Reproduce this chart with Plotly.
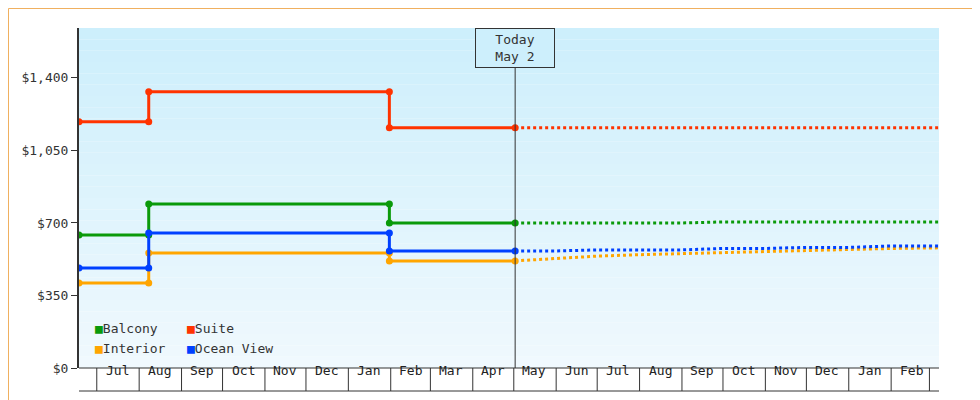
import plotly.graph_objects as go

# history (step changes)
hist_dates = ["2023-06-18", "2023-08-08", "2023-08-08", "2024-01-31", "2024-01-31", "2024-05-02"]
suite_hist = [1188, 1188, 1333, 1333, 1159, 1159]
balcony_hist = [642, 642, 792, 792, 700, 700]
ocean_hist = [483, 483, 652, 652, 565, 565]
interior_hist = [410, 410, 555, 555, 517, 517]

# forecast
fc_dates = ["2024-05-02", "2024-06-01", "2024-07-01", "2024-08-01", "2024-09-01", "2024-10-01",
            "2024-11-01", "2024-12-01", "2025-01-01", "2025-02-01", "2025-03-08"]
suite_fc = [1159] * 11
balcony_fc = [700, 700, 700, 700, 700, 705, 705, 705, 705, 705, 705]
ocean_fc = [565, 565, 570, 570, 570, 577, 577, 582, 582, 589, 589]
interior_fc = [517, 530, 540, 547, 552, 557, 563, 568, 573, 577, 580]

month_edges = ["2023-07-01", "2023-08-01", "2023-09-01", "2023-10-01", "2023-11-01", "2023-12-01",
               "2024-01-01", "2024-02-01", "2024-03-01", "2024-04-01", "2024-05-01", "2024-06-01",
               "2024-07-01", "2024-08-01", "2024-09-01", "2024-10-01", "2024-11-01", "2024-12-01",
               "2025-01-01", "2025-02-01", "2025-03-01"]
month_labels = ["Jul", "Aug", "Sep", "Oct", "Nov", "Dec", "Jan", "Feb", "Mar", "Apr", "May", "Jun",
                "Jul", "Aug", "Sep", "Oct", "Nov", "Dec", "Jan", "Feb"]

series = [
    ("Balcony", "#0a9a0a", balcony_hist, balcony_fc),
    ("Suite", "#ff3300", suite_hist, suite_fc),
    ("Interior", "#ffa500", interior_hist, interior_fc),
    ("Ocean View", "#0040ff", ocean_hist, ocean_fc),
]

FONT = "DejaVu Sans Mono"
fig = go.Figure()
for name, color, h, f in series:
    fig.add_trace(go.Scatter(x=fc_dates, y=f, mode="lines", line=dict(color=color, width=3, dash="dot"),
                             showlegend=False, hoverinfo="skip"))
for name, color, h, f in series:
    fig.add_trace(go.Scatter(x=hist_dates, y=h, mode="lines+markers", line=dict(color=color, width=3),
                             marker=dict(size=7, color=color), showlegend=False, name=name))

shapes = []
# gradient background
n = 30
for i in range(n):
    t = i / (n - 1)
    r = int(0xcd + (0xf0 - 0xcd) * t)
    g = int(0xef + (0xf9 - 0xef) * t)
    b = int(0xfc + (0xfe - 0xfc) * t)
    shapes.append(dict(type="rect", xref="x domain", yref="y domain", x0=0, x1=1,
                       y0=1 - (i + 1) / n, y1=1 - i / n, fillcolor=f"rgb({r},{g},{b})",
                       line_width=0, layer="below"))
# month cells under the axis
for d in month_edges:
    shapes.append(dict(type="line", xref="x", yref="paper", x0=d, x1=d, y0=0, y1=-23 / 340,
                       line=dict(color="#333", width=1)))
shapes.append(dict(type="line", xref="paper", yref="paper", x0=0, x1=1, y0=-23 / 340, y1=-23 / 340,
                   line=dict(color="#333", width=1)))
shapes.append(dict(type="line", xref="paper", yref="paper", x0=0, x1=1, y0=0, y1=0,
                   line=dict(color="#333", width=1)))
# today line
shapes.append(dict(type="line", xref="x", yref="paper", x0="2024-05-02", x1="2024-05-02", y0=0,
                   y1=1 - 40 / 340, line=dict(color="#333", width=1)))
# outer border
shapes.append(dict(type="rect", xref="paper", yref="paper", x0=-70.5 / 860, x1=908.5 / 860,
                   y0=-39.5 / 340, y1=359.5 / 340, line=dict(color="#f0b060", width=1)))

annotations = []
for i, lab in enumerate(month_labels):
    mid = month_edges[i][:8] + "16"
    annotations.append(dict(x=mid, y=-11.5 / 340, xref="x", yref="paper", text=lab, showarrow=False,
                            font=dict(family=FONT, size=13, color="#222")))
annotations.append(dict(x="2024-05-02", y=1, xref="x", yref="paper", yanchor="top",
                        text="Today<br>May 2", showarrow=False, bgcolor="rgba(205,239,252,1)",
                        bordercolor="#333", borderwidth=1, borderpad=3, width=72,
                        font=dict(family=FONT, size=13, color="#333")))
# legend, drawn as two rows
legend_pos = [(14 / 860, 40 / 340), (106 / 860, 40 / 340), (14 / 860, 20 / 340), (106 / 860, 20 / 340)]
for (name, color, h, f), (lx, ly) in zip(series, legend_pos):
    annotations.append(dict(x=lx, y=ly, xref="paper", yref="paper", xanchor="left", yanchor="middle",
                            showarrow=False, text=f'<span style="color:{color}">■</span>{name}',
                            font=dict(family=FONT, size=13, color="#333")))

fig.update_layout(
    width=980, height=400, margin=dict(l=71, r=49, t=20, b=40, autoexpand=False),
    paper_bgcolor="white", plot_bgcolor="white",
    font=dict(family=FONT, size=13, color="#333"),
    shapes=shapes, annotations=annotations, showlegend=False,
    xaxis=dict(type="date", range=["2023-06-18", "2025-03-08"], showticklabels=False, ticks="",
               showgrid=False, zeroline=False, showline=False),
    yaxis=dict(range=[0, 1641], tickvals=[0, 350, 700, 1050, 1400], tickformat="$,.0f",
               ticks="outside", ticklen=6, tickcolor="#333", showgrid=False, zeroline=False,
               showline=True, linecolor="#333", linewidth=2),
)

fig.write_html("out.html")
